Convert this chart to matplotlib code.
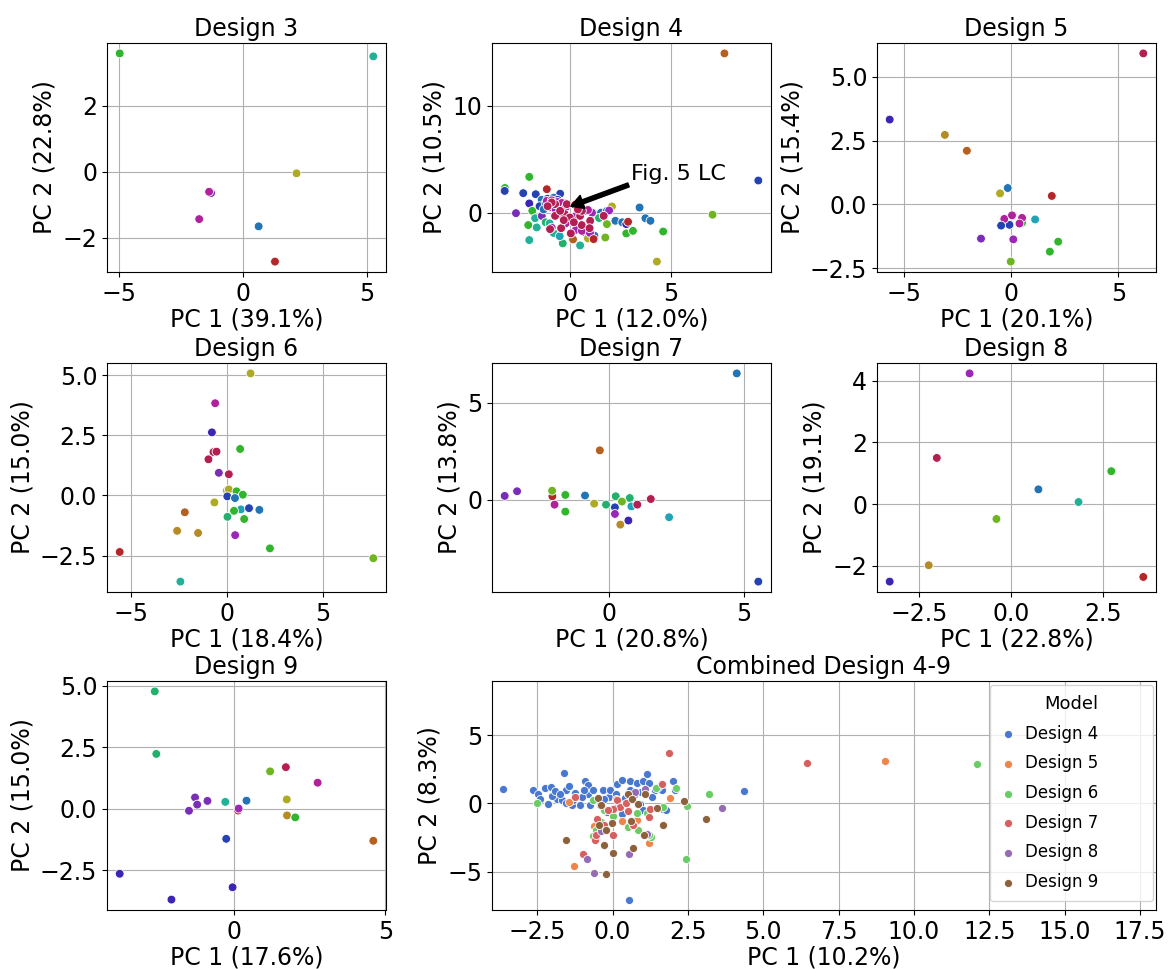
import matplotlib
matplotlib.use('Agg')
import matplotlib.pyplot as plt
from matplotlib.ticker import MultipleLocator

# colour names for the per-sample hues
pal = {
    'red': '#b3272a', 'crimson': '#b31f52', 'magenta': '#b0229c', 'violet': '#9b27b8',
    'purple': '#7a2eb8', 'indigo': '#3b25b2', 'dblue': '#2442b3', 'blue': '#2274b5',
    'cyan': '#20a3b5', 'teal': '#22b096', 'tgreen': '#22b06e', 'green': '#30b52d',
    'ygreen': '#6db521', 'olive': '#aeaa22', 'ochre': '#b58b26', 'orange': '#b5601f',
}

# ---- Design 3
d3_x = [-4.99, 5.25, 2.15, -1.30, -1.38, -1.78, 0.62, 1.28]
d3_y = [3.59, 3.50, -0.05, -0.65, -0.61, -1.44, -1.66, -2.73]
d3_c = ['green', 'teal', 'olive', 'purple', 'magenta', 'magenta', 'blue', 'red']

# ---- Design 4
d4_pts = [
    (7.67, 14.87, 'orange'), (9.35, 3.00, 'dblue'), (7.08, -0.19, 'ygreen'), (4.32, -4.57, 'olive'),
    (-3.22, 2.30, 'green'), (-3.23, 2.03, 'dblue'), (-2.31, 1.82, 'dblue'), (-2.01, 3.34, 'green'),
    (-1.69, 1.72, 'dblue'), (-1.14, 2.19, 'red'), (-0.48, 1.77, 'dblue'), (-2.01, 0.86, 'indigo'),
    (-2.67, -0.05, 'purple'), (-1.86, 0.17, 'green'), (-1.72, -0.52, 'teal'), (-2.06, -1.16, 'green'),
    (-1.64, -1.38, 'teal'), (-2.01, -2.56, 'teal'), (-0.35, -2.87, 'tgreen'), (0.51, -3.06, 'teal'),
    (0.16, -2.50, 'orange'), (-1.39, -0.31, 'purple'), (-1.20, -0.90, 'tgreen'), (-1.00, -1.00, 'teal'),
    (-0.80, -1.90, 'teal'), (-0.50, -2.20, 'cyan'), (1.26, -0.15, 'cyan'), (1.55, 0.00, 'blue'),
    (1.84, 0.17, 'blue'), (2.09, 0.58, 'olive'), (1.95, 0.20, 'violet'), (2.26, -0.76, 'blue'),
    (2.60, -0.90, 'blue'), (2.80, -1.07, 'indigo'), (2.89, -0.85, 'red'), (3.46, 0.48, 'blue'),
    (3.75, -0.52, 'blue'), (4.00, -0.76, 'blue'), (4.63, -1.76, 'green'), (2.80, -1.94, 'green'),
    (3.13, -1.70, 'green'), (1.76, -2.32, 'ygreen'), (1.84, -1.07, 'ygreen'), (0.76, -1.84, 'dblue'),
    (1.22, -2.15, 'blue'), (0.90, -2.40, 'olive'), (1.45, -0.50, 'tgreen'),
    (-1.40, 1.20, 'blue'), (-1.10, 1.30, 'dblue'), (-0.80, 1.40, 'blue'), (-1.50, 0.60, 'dblue'),
    (-1.20, 0.90, 'blue'), (-0.90, 1.00, 'blue'), (-0.60, 1.20, 'dblue'), (-1.30, 0.30, 'blue'),
    (-0.30, 0.90, 'blue'),
    (-1.14, 1.10, 'magenta'), (-0.90, 1.15, 'magenta'), (-0.60, 1.00, 'violet'), (-0.40, 0.90, 'magenta'),
    (-1.00, 0.50, 'magenta'), (-0.70, 0.30, 'violet'), (-0.20, 0.50, 'magenta'), (0.76, 0.17, 'magenta'),
    (1.10, 0.00, 'violet'), (0.90, 0.25, 'magenta'), (-0.50, -0.20, 'magenta'), (0.30, -0.30, 'violet'),
    (-0.90, -1.40, 'violet'), (0.30, -1.60, 'violet'), (0.60, -1.70, 'magenta'), (-0.20, -1.00, 'magenta'),
    (1.00, -1.90, 'violet'),
    (-0.73, 0.79, 'crimson'), (-0.15, 0.79, 'crimson'), (0.26, 0.73, 'crimson'), (-0.73, -0.30, 'crimson'),
    (-0.25, -0.14, 'crimson'), (0.00, -0.45, 'crimson'), (0.51, -0.30, 'crimson'), (1.01, -0.76, 'crimson'),
    (0.59, -1.16, 'crimson'), (-0.98, -1.54, 'crimson'), (-0.43, -1.45, 'crimson'), (0.05, -1.94, 'crimson'),
    (0.98, -1.45, 'crimson'), (1.18, -2.47, 'red'), (1.68, -0.30, 'crimson'), (-0.48, 0.17, 'crimson'),
    (-0.90, 0.95, 'crimson'), (0.60, 0.17, 'crimson'), (-1.10, 0.60, 'crimson'), (0.20, -0.90, 'crimson'),
    (-0.30, -0.70, 'crimson'), (0.40, 0.30, 'crimson'),
]
d4_x = [p[0] for p in d4_pts]
d4_y = [p[1] for p in d4_pts]
d4_c = [p[2] for p in d4_pts]

# ---- Design 5
d5_x = [6.17, -5.69, -3.11, -2.08, -0.17, -0.53, 1.89, 1.11, 0.50, -0.09, -0.33, 0.03, 0.50, 0.38,
        -0.48, -1.42, 0.09, 2.19, 1.80, -0.03]
d5_y = [5.91, 3.32, 2.72, 2.10, 0.64, 0.43, 0.33, -0.59, -0.72, -0.80, -0.57, -0.43, -0.53, -0.75,
        -0.83, -1.34, -1.37, -1.46, -1.85, -2.24]
d5_c = ['crimson', 'indigo', 'ochre', 'orange', 'blue', 'olive', 'red', 'cyan', 'green', 'dblue',
        'magenta', 'magenta', 'magenta', 'magenta', 'dblue', 'purple', 'violet', 'green', 'green', 'ygreen']

# ---- Design 6
d6_x = [1.23, -0.61, -0.78, 0.69, -0.70, -0.54, -0.96, -0.42, 0.10, 0.00, 0.10, 0.50, 0.83, 0.02,
        0.42, -0.65, 0.73, 1.15, 1.69, 0.37, -2.19, 0.03, 0.90, -2.59, -1.50, 0.43, 2.24, -5.58, 7.62, -2.42]
d6_y = [5.07, 3.83, 2.62, 1.93, 1.80, 1.82, 1.50, 0.94, 0.88, 0.20, 0.25, 0.17, 0.03, -0.04,
        -0.11, -0.29, -0.58, -0.53, -0.60, -0.64, -0.70, -0.89, -0.98, -1.47, -1.56, -1.65, -2.20, -2.35, -2.61, -3.58]
d6_c = ['olive', 'magenta', 'indigo', 'green', 'crimson', 'crimson', 'crimson', 'purple', 'crimson', 'olive',
        'olive', 'green', 'green', 'dblue', 'blue', 'olive', 'cyan', 'dblue', 'blue', 'green', 'orange', 'tgreen',
        'green', 'ochre', 'ochre', 'violet', 'green', 'red', 'ygreen', 'teal']

# ---- Design 7
d7_x = [4.73, 5.53, -0.35, -3.88, -3.42, -2.11, -2.12, -1.63, -0.90, -2.03, -1.63, -0.56, -0.12, 0.24,
        0.76, 0.47, 0.82, 1.04, 1.54, 0.21, 0.21, 0.71, 0.41, 2.22]
d7_y = [6.51, -4.23, 2.54, 0.19, 0.43, 0.17, 0.46, 0.24, 0.21, -0.26, -0.62, -0.21, -0.26, 0.17,
        0.08, -0.10, -0.35, -0.26, 0.03, -0.40, -0.74, -1.08, -1.29, -0.91]
d7_c = ['blue', 'dblue', 'orange', 'purple', 'purple', 'red', 'ygreen', 'green', 'blue', 'magenta', 'green',
        'olive', 'tgreen', 'tgreen', 'tgreen', 'ygreen', 'cyan', 'crimson', 'crimson', 'dblue', 'violet',
        'indigo', 'ochre', 'cyan']

# ---- Design 8
d8_x = [-1.12, -2.01, 2.73, 0.75, 1.84, -0.39, -2.23, -3.29, 3.60]
d8_y = [4.24, 1.50, 1.07, 0.48, 0.07, -0.48, -1.98, -2.51, -2.36]
d8_c = ['violet', 'crimson', 'green', 'blue', 'teal', 'ygreen', 'ochre', 'indigo', 'red']

# ---- Design 9
d9_x = [-2.62, -2.57, 1.19, 1.71, 2.76, 1.74, 1.75, 2.02, 4.60, -1.29, -1.22, -0.88, -1.49, -0.29,
        0.41, 0.13, 0.15, -0.26, -3.78, -0.05, -2.07]
d9_y = [4.76, 2.22, 1.51, 1.68, 1.05, 0.37, -0.28, -0.36, -1.31, 0.45, 0.16, 0.31, -0.09, 0.27,
        0.32, -0.08, 0.00, -1.23, -2.65, -3.20, -3.70]
d9_c = ['tgreen', 'tgreen', 'ygreen', 'crimson', 'magenta', 'olive', 'ochre', 'green', 'orange', 'purple',
        'purple', 'purple', 'purple', 'teal', 'blue', 'red', 'violet', 'dblue', 'indigo', 'indigo', 'indigo']

# ---- Combined Design 4-9
comb4 = [(-3.63, 1.05), (-2.63, 0.96), (-2.47, 0.70), (-2.41, 0.34), (-2.23, 1.14), (-2.14, -0.03),
         (-2.05, 1.18), (-1.86, 0.34), (-1.69, 0.22), (-1.62, 2.22), (-1.55, 1.00), (-1.53, 0.00),
         (-1.44, 1.27), (-1.33, -0.15), (-1.31, 0.22), (-1.25, 0.75), (-1.22, 0.46), (-1.09, -0.15),
         (-0.91, 1.63), (-0.83, 1.32), (-0.83, 0.71), (-0.76, -0.15), (-0.66, 0.95), (-0.55, 0.22),
         (-0.43, -0.15), (-0.32, 0.95), (-0.12, 0.46), (-0.10, 1.00), (0.13, 0.71), (0.16, 1.39),
         (0.30, 1.68), (0.58, 1.63), (0.58, 0.95), (0.80, 1.49), (0.91, -0.03), (1.02, 1.63),
         (1.02, -0.51), (1.15, 2.12), (1.22, 1.49), (1.42, 0.95), (1.64, 0.95), (1.68, -0.39),
         (1.77, -0.47), (2.00, 1.63), (2.07, 0.95), (4.36, 0.88), (0.55, -7.11), (-2.00, 0.55),
         (-1.90, 0.90), (-1.00, 0.45), (-0.30, 0.30), (0.40, 0.40), (0.70, 0.60), (1.30, 0.50),
         (-1.75, 0.65), (-0.95, 0.95), (0.05, -0.35), (0.95, 0.85), (1.50, 1.20), (-0.20, -0.60),
         (0.30, -0.75)]
comb5 = [(-1.44, 0.12), (-1.28, -4.57), (-0.62, -1.64), (0.32, -1.30), (0.80, -1.20), (1.20, -2.89),
         (1.90, 0.41), (0.52, 0.71), (9.04, 3.10), (-0.55, -2.60), (0.10, 0.30)]
comb6 = [(-2.52, 0.05), (-0.66, -2.40), (-0.55, -1.98), (-0.27, -0.51), (0.80, -0.71), (0.86, -1.98),
         (1.15, -0.71), (1.29, -2.47), (0.52, -1.73), (0.69, -1.61), (1.44, 1.14), (1.68, -0.25),
         (2.09, 1.14), (2.43, -4.06), (2.47, -0.17), (3.20, 0.66), (-0.64, 0.22), (12.09, 2.86),
         (0.00, -0.90), (-0.40, -1.40), (1.20, -2.30)]
comb7 = [(6.45, 2.93), (1.87, 3.66), (-1.23, 0.46), (1.64, 1.44), (-0.51, -1.13), (-0.30, -1.61),
         (0.03, -2.30), (-0.57, -2.71), (-0.98, -3.69), (0.15, 0.22), (0.26, -0.27), (0.50, -0.59),
         (1.22, -1.00), (1.24, -0.39), (0.69, -1.61), (0.02, -0.39), (-0.15, -0.47), (1.07, 0.99),
         (-0.55, -2.30), (0.45, 0.00)]
comb8 = [(0.76, 0.83), (3.64, -0.34), (-0.84, -4.06), (0.54, -3.72), (-0.60, -5.10), (-0.37, -2.03),
         (1.15, -2.22), (1.07, 1.07)]
comb9 = [(-0.47, 0.41), (0.50, 0.71), (0.66, 0.29), (1.07, 0.66), (0.85, -0.03), (-0.37, -0.15),
         (1.49, -0.32), (2.37, 0.17), (3.11, -1.12), (1.66, -1.57), (1.03, -2.34), (0.62, -1.30),
         (-0.01, -1.42), (-0.46, -1.61), (-0.21, -1.93), (-1.55, -2.71), (-0.30, -3.05), (0.69, -3.27),
         (0.00, -3.61), (-0.23, -5.18)]
comb_groups = ['Design 4', 'Design 5', 'Design 6', 'Design 7', 'Design 8', 'Design 9']
comb_data = [comb4, comb5, comb6, comb7, comb8, comb9]
comb_colors = ['#4878d0', '#ee854a', '#6acc64', '#d65f5f', '#956cb4', '#8c613c']

# title, x, y, colours, xlabel, ylabel, x tick step, y tick step
panels = [
    ('Design 3', d3_x, d3_y, d3_c, 'PC 1 (39.1%)', 'PC 2 (22.8%)', 5, 2),
    ('Design 4', d4_x, d4_y, d4_c, 'PC 1 (12.0%)', 'PC 2 (10.5%)', 5, 10),
    ('Design 5', d5_x, d5_y, d5_c, 'PC 1 (20.1%)', 'PC 2 (15.4%)', 5, 2.5),
    ('Design 6', d6_x, d6_y, d6_c, 'PC 1 (18.4%)', 'PC 2 (15.0%)', 5, 2.5),
    ('Design 7', d7_x, d7_y, d7_c, 'PC 1 (20.8%)', 'PC 2 (13.8%)', 5, 5),
    ('Design 8', d8_x, d8_y, d8_c, 'PC 1 (22.8%)', 'PC 2 (19.1%)', 2.5, 2),
    ('Design 9', d9_x, d9_y, d9_c, 'PC 1 (17.6%)', 'PC 2 (15.0%)', 5, 2.5),
]

W, H = 1168, 969
plt.rcParams['font.size'] = 17

fig = plt.figure(figsize=(W / 100, H / 100), dpi=100)

def add_ax(left, top, width, height):
    return fig.add_axes([left / W, 1 - (top + height) / H, width / W, height / H])

col_left = [107, 492, 877]
row_top = [43, 363, 681]
boxes = [(0, 0), (0, 1), (0, 2), (1, 0), (1, 1), (1, 2), (2, 0)]

axes = []
for (r, c), (title, x, y, cols, xl, yl, xs, ys) in zip(boxes, panels):
    ax = add_ax(col_left[c], row_top[r], 279, 229)
    ax.set_axisbelow(True)
    ax.grid(True)
    ax.scatter(x, y, c=[pal[k] for k in cols], s=40, edgecolors='white', linewidths=0.6)
    ax.xaxis.set_major_locator(MultipleLocator(xs))
    ax.yaxis.set_major_locator(MultipleLocator(ys))
    ax.set_title(title, fontsize=17, pad=5)
    ax.set_xlabel(xl, labelpad=1)
    ax.set_ylabel(yl)
    axes.append(ax)

# annotation on Design 4
axes[1].annotate('Fig. 5 LC', xy=(0.05, 0.6), xytext=(3.05, 3.06), fontsize=16,
                 arrowprops=dict(facecolor='black', edgecolor='black', width=3, headwidth=10,
                                 headlength=9, shrink=0.0))

# combined panel
ax = add_ax(492, 681, 664, 229)
ax.set_axisbelow(True)
ax.grid(True)
for name, pts, col in zip(comb_groups, comb_data, comb_colors):
    ax.scatter([p[0] for p in pts], [p[1] for p in pts], color=col, s=34,
               edgecolors='white', linewidths=0.6, label=name)
ax.set_xlim(-4.0, 18.03)
ax.set_ylim(-7.81, 8.96)
ax.xaxis.set_major_locator(MultipleLocator(2.5))
ax.yaxis.set_major_locator(MultipleLocator(5))
ax.set_title('Combined Design 4-9', fontsize=17, pad=5)
ax.set_xlabel('PC 1 (10.2%)', labelpad=1)
ax.set_ylabel('PC 2 (8.3%)')
ax.legend(title='Model', loc='upper right', bbox_to_anchor=(0.75, 0.0, 0.2455, 0.9825),
          mode='expand', borderaxespad=0, fontsize=12, title_fontsize=13,
          labelspacing=0.7, borderpad=0.6, handlelength=1.0, handletextpad=0.5)

fig.savefig('out.png', dpi=100)
